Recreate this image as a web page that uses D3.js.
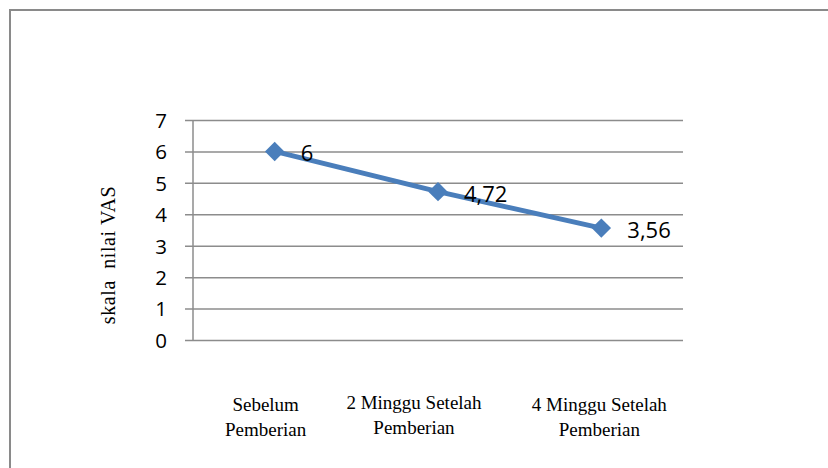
<!DOCTYPE html>
<html>
<head>
<meta charset="utf-8">
<script src="https://cdn.jsdelivr.net/npm/d3@7"></script>
<style>
  html, body { margin: 0; padding: 0; background: #fff; }
  svg { display: block; }
</style>
</head>
<body>
<svg id="chart"></svg>
<script>
// data
const categories = [['Sebelum', 'Pemberian'], ['2 Minggu Setelah', 'Pemberian'], ['4 Minggu Setelah', 'Pemberian']]
const values = [6, 4.72, 3.56]
const valueLabels = ['6', '4,72', '3,56']
const yTicks = [0, 1, 2, 3, 4, 5, 6, 7]
const yTitle = 'skala  nilai VAS'

const width = 828, height = 468
const plot = { left: 193, right: 683, top: 120, bottom: 340 }

const svg = d3.select('#chart').attr('width', width).attr('height', height)

// outer frame (right and bottom edges run off the picture)
svg.append('path')
	.attr('d', 'M10,' + (height + 5) + 'V10H' + (width + 5))
	.attr('fill', 'none')
	.attr('stroke', '#8a8a8a')
	.attr('stroke-width', 2)

const x = d3.scaleBand()
	.domain(d3.range(values.length))
	.range([plot.left, plot.right])

const y = d3.scaleLinear()
	.domain([0, 7])
	.range([plot.bottom, plot.top])

// gridlines + tick marks
const yAxis = d3.axisLeft(y)
	.tickValues(yTicks)
	.tickSize(-(plot.right - plot.left))
	.tickPadding(26)
	.tickFormat(d3.format('d'))

const gy = svg.append('g')
	.attr('transform', 'translate(' + plot.left + ',0)')
	.call(yAxis)
gy.select('.domain').remove()
gy.selectAll('.tick line')
	.attr('x1', -8)
	.attr('stroke', '#8c8c8c')
	.attr('stroke-width', 1.5)
gy.selectAll('.tick text')
	.attr('font-family', '"Open Sans", "Noto Sans", sans-serif')
	.attr('font-size', 20.5)
	.attr('fill', '#000')
	.attr('dy', '0.36em')

// vertical axis line
svg.append('line')
	.attr('x1', plot.left).attr('x2', plot.left)
	.attr('y1', plot.top).attr('y2', plot.bottom)
	.attr('stroke', '#8c8c8c')
	.attr('stroke-width', 1.5)

// category labels (the original sits them a bit off the band centres)
const labelNudge = [-9, -24, -2]
const cat = svg.append('g')
	.selectAll('text')
	.data(categories)
	.enter()
	.append('text')
	.attr('x', function (d, i) { return x(i) + x.bandwidth() / 2 + labelNudge[i] })
	.attr('y', function (d, i) { return i === 1 ? 409 : 411 })
	.attr('text-anchor', 'middle')
	.attr('font-family', '"Liberation Serif", "Times New Roman", serif')
	.attr('font-size', 19)
	.attr('fill', '#000')
cat.selectAll('tspan')
	.data(function (d) { return d })
	.enter()
	.append('tspan')
	.attr('x', function () { return d3.select(this.parentNode).attr('x') })
	.attr('dy', function (d, i) { return i === 0 ? 0 : 25 })
	.text(function (d) { return d })

// y title
svg.append('text')
	.attr('transform', 'translate(115,255) rotate(-90)')
	.attr('text-anchor', 'middle')
	.attr('font-family', '"Liberation Serif", "Times New Roman", serif')
	.attr('font-size', 20)
	.attr('letter-spacing', 0.6)
	.attr('fill', '#000')
	.style('white-space', 'pre')
	.text(yTitle)

// series line
const line = d3.line()
	.x(function (d, i) { return x(i) + x.bandwidth() / 2 })
	.y(function (d) { return y(d) })

svg.append('path')
	.datum(values)
	.attr('d', line)
	.attr('fill', 'none')
	.attr('stroke', '#4a7ebb')
	.attr('stroke-width', 5)
	.attr('stroke-linejoin', 'round')

// diamond markers
svg.append('g')
	.selectAll('path')
	.data(values)
	.enter()
	.append('path')
	.attr('d', d3.symbol().type(d3.symbolDiamond2).size(240))
	.attr('transform', function (d, i) {
		return 'translate(' + (x(i) + x.bandwidth() / 2) + ',' + y(d) + ')'
	})
	.attr('fill', '#4a7ebb')

// data labels
svg.append('g')
	.selectAll('text')
	.data(values)
	.enter()
	.append('text')
	.attr('x', function (d, i) { return x(i) + x.bandwidth() / 2 + 26 })
	.attr('y', function (d) { return y(d) + 10 })
	.attr('font-family', '"Open Sans", "Noto Sans", sans-serif')
	.attr('font-size', 22)
	.attr('fill', '#000')
	.text(function (d, i) { return valueLabels[i] })
</script>
</body>
</html>
